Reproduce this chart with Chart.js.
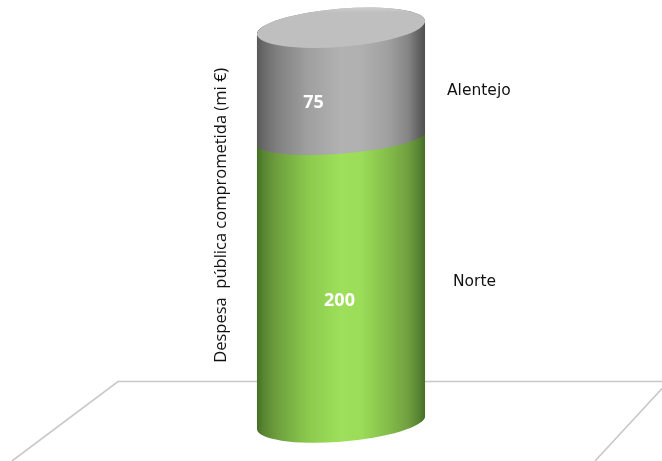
<!DOCTYPE html>
<html><head><meta charset="utf-8">
<style>html,body{margin:0;padding:0;background:#fff}canvas{display:block}</style>
<script src="https://cdn.jsdelivr.net/npm/chart.js@4"></script>
</head><body><canvas id="c" width="662" height="461"></canvas>
<script>
const categories = ['Despesa'];
const seriesNames = ['Norte', 'Alentejo'];
const norteValues = [200];
const alentejoValues = [75];
const axisTitle = 'Despesa  pública comprometida (mi €)';

const greenStops = [[0,'#466f26'],[0.04,'#598632'],[0.12,'#6e9f3e'],[0.30,'#8bc94d'],[0.50,'#9ee05a'],[0.62,'#9bdc58'],[0.78,'#84bd4a'],[0.90,'#6f9f3f'],[0.96,'#598633'],[1,'#466e27']];
const greyStops = [[0,'#595959'],[0.04,'#6a6a6a'],[0.12,'#808080'],[0.30,'#9f9f9f'],[0.50,'#b2b2b2'],[0.62,'#b0b0b0'],[0.78,'#a0a0a0'],[0.90,'#858585'],[0.96,'#646464'],[1,'#505050']];
const BAR_W = 168;
const CAP = { rx: 84.3, ry: 19.1, rot: -0.0811 };
const SEAM = { rx: 84.56, ry: 15.1, rot: -0.0795 };
const tangent = e => Math.atan2(-e.ry * Math.sin(e.rot), e.rx * Math.cos(e.rot));
const CAP_SHIFT = -1.75, SEAM_SHIFT = 1.9;

function barGrad(chart, stops) {
  const area = chart.chartArea;
  const cx = area ? (area.left + area.right) / 2 : 341;
  const x0 = cx - BAR_W / 2;
  const g = chart.ctx.createLinearGradient(x0, 0, x0 + BAR_W, 0);
  stops.forEach(s => g.addColorStop(s[0], s[1]));
  return g;
}
// outline of the whole cylinder: back of the top cap, front of the base
function silhouette(chart) {
  const { ctx, scales: { y } } = chart;
  const a = chart.getDatasetMeta(1).data[0];
  const t = tangent(CAP);
  ctx.beginPath();
  ctx.ellipse(a.x, a.y + CAP_SHIFT, CAP.rx, CAP.ry, CAP.rot, t + Math.PI, t + 2 * Math.PI);
  ctx.ellipse(a.x, y.getPixelForValue(0), CAP.rx, CAP.ry, CAP.rot, t, t + Math.PI);
  ctx.closePath();
}

const cylinder = {
  id: 'cylinder',
  beforeDatasetsDraw(chart) {
    const { ctx, scales: { y } } = chart;
    const yb = y.getPixelForValue(0);
    const a = chart.getDatasetMeta(1).data[0];
    const n = chart.getDatasetMeta(0).data[0];
    ctx.save();
    ctx.strokeStyle = '#c8c8c8';
    ctx.lineWidth = 1.6;
    ctx.beginPath();
    ctx.moveTo(662, yb - 41); ctx.lineTo(118, yb - 41); ctx.lineTo(12, 461);
    ctx.moveTo(662, yb - 34); ctx.lineTo(595, 461);
    ctx.stroke();
    ctx.restore();
    // ends of the body that a flat bar cannot reach
    ctx.save();
    silhouette(chart);
    ctx.clip();
    ctx.fillStyle = barGrad(chart, greenStops);
    ctx.fillRect(0, n.y, 662, yb - n.y + 40);
    ctx.fillStyle = barGrad(chart, greyStops);
    ctx.fillRect(0, a.y - 40, 662, n.y - a.y + 40);
    ctx.restore();
  },
  beforeDatasetDraw(chart) {
    chart.ctx.save();
    silhouette(chart);
    chart.ctx.clip();
  },
  afterDatasetDraw(chart) {
    chart.ctx.restore();
  },
  afterDatasetsDraw(chart) {
    const { ctx, scales: { y } } = chart;
    const n = chart.getDatasetMeta(0).data[0];
    const a = chart.getDatasetMeta(1).data[0];
    const cx = n.x, cy = n.y + SEAM_SHIFT;
    const L = cx - BAR_W / 2, R = cx + BAR_W / 2;
    const ts = tangent(SEAM);
    // tilted seam between the two segments
    ctx.save();
    ctx.beginPath();
    ctx.ellipse(cx, cy, SEAM.rx, SEAM.ry, SEAM.rot, ts, ts + Math.PI);
    ctx.lineTo(L - 2, cy + 40); ctx.lineTo(R + 2, cy + 40); ctx.closePath();
    ctx.clip();
    ctx.fillStyle = barGrad(chart, greenStops);
    ctx.fillRect(L, cy - 30, BAR_W, 70);
    ctx.restore();
    ctx.save();
    ctx.beginPath();
    ctx.ellipse(cx, cy, SEAM.rx, SEAM.ry, SEAM.rot, ts, ts + Math.PI);
    ctx.lineTo(L - 2, cy - 40); ctx.lineTo(R + 2, cy - 40); ctx.closePath();
    ctx.clip();
    ctx.fillStyle = barGrad(chart, greyStops);
    ctx.fillRect(L, cy - 40, BAR_W, 70);
    ctx.restore();
    // top cap
    ctx.save();
    const capY = a.y + CAP_SHIFT;
    const cap = ctx.createLinearGradient(0, capY - 21, 0, capY - 15);
    cap.addColorStop(0, '#cfcfcf'); cap.addColorStop(1, '#bfbfbf');
    ctx.fillStyle = cap;
    ctx.beginPath();
    ctx.ellipse(a.x, capY, CAP.rx, CAP.ry, CAP.rot, 0, Math.PI * 2);
    ctx.fill();
    ctx.restore();
    // value and series labels
    ctx.save();
    ctx.textBaseline = 'middle';
    ctx.textAlign = 'center';
    ctx.fillStyle = '#ffffff';
    ctx.font = 'bold 18px "Open Sans"';
    ctx.fillText(String(alentejoValues[0]), cx - 27.5, (a.y + n.y) / 2 + 20);
    ctx.fillText(String(norteValues[0]), cx - 1.5, (n.y + y.getPixelForValue(0)) / 2 + 21.5);
    ctx.textAlign = 'left';
    ctx.fillStyle = '#111111';
    ctx.font = '15.5px "DejaVu Sans"';
    ctx.fillText(seriesNames[1], 447, 91);
    ctx.fillText(seriesNames[0], 453, 281.5);
    ctx.restore();
  }
};

new Chart(document.getElementById('c'), {
  type: 'bar',
  data: {
    labels: categories,
    datasets: [
      { label: seriesNames[0], data: norteValues, barThickness: BAR_W,
        backgroundColor: c => barGrad(c.chart, greenStops), borderWidth: 0 },
      { label: seriesNames[1], data: alentejoValues, barThickness: BAR_W,
        backgroundColor: c => barGrad(c.chart, greyStops), borderWidth: 0 }
    ]
  },
  options: {
    responsive: false, animation: false,
    layout: { padding: { left: 211, right: 212, top: 8, bottom: 38.5 } },
    plugins: { legend: { display: false }, tooltip: { enabled: false }, title: { display: false } },
    scales: {
      x: { stacked: true, display: false, grid: { display: false } },
      y: { stacked: true, min: 0, max: 290,
        afterFit(scale) { scale.width = 21; },
        grid: { display: false }, border: { display: false },
        ticks: { display: false },
        title: { display: true, text: axisTitle, color: '#111111', padding: { top: 0, bottom: 0 },
          font: { family: '"Open Sans"', size: 16.5, weight: 'normal' } } }
    }
  },
  plugins: [cylinder]
});
</script></body></html>
